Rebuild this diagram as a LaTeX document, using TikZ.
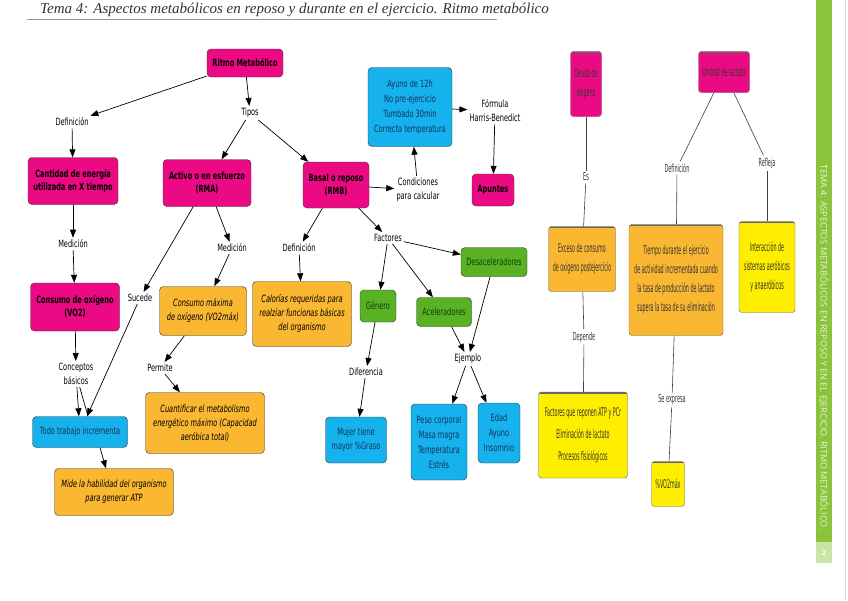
\documentclass[tikz,border=0pt]{standalone}
\usepackage{fontspec}
\setmainfont[FakeStretch=0.66]{DejaVu Sans}
\newfontfamily\estrecha[FakeStretch=0.4]{DejaVu Sans}
\newfontfamily\etiqfont[FakeStretch=0.45]{DejaVu Sans}
\newfontfamily\mano{Liberation Serif}
\newfontfamily\lateral{Open Sans}
\usetikzlibrary{arrows.meta}
\definecolor{rosado}{RGB}{236,10,132}
\definecolor{celeste}{RGB}{22,178,238}
\definecolor{naranjo}{RGB}{250,183,50}
\definecolor{verdecaja}{RGB}{88,178,36}
\definecolor{amarillo}{RGB}{255,238,0}
\definecolor{barra}{RGB}{138,196,60}
\definecolor{azuloscuro}{RGB}{20,50,90}
\definecolor{verdeoscuro}{RGB}{20,60,10}
\tikzset{
  caja/.style={draw=black!80,rounded corners=4pt,align=center,inner sep=2pt,
    font=\fontsize{10}{14}\selectfont},
  rosa/.style={caja,fill=rosado,font=\bfseries\fontsize{10}{13}\selectfont},
  azul/.style={caja,fill=celeste,text=azuloscuro},
  naranja/.style={caja,fill=naranjo,font=\itshape\fontsize{10}{14}\selectfont},
  verde/.style={caja,fill=verdecaja,text=verdeoscuro},
  etiqueta/.style={align=center,inner sep=2pt,font=\fontsize{10}{14}\selectfont},
  derecha/.style={draw=black!60,rounded corners=3pt,align=center,inner sep=2pt,
    text=black!80,font=\estrecha\fontsize{12}{19}\selectfont,
    path picture={\draw[line width=3pt] (path picture bounding box.north west)
      -- (path picture bounding box.north east);}},
  etiq2/.style={inner sep=2pt,text=black!80,font=\etiqfont\fontsize{11}{12}\selectfont},
  flecha/.style={-{Triangle[length=8pt,width=6pt]},line width=0.7pt},
  linea/.style={black!75,line width=0.6pt}
}
\begin{document}
\begin{tikzpicture}[x=1pt,y=-1pt]
\useasboundingbox (0,0) rectangle (848,600);
\fill[white] (0,0) rectangle (848,600);
% encabezado
\node[anchor=base west,inner sep=0pt,text=black!80,font=\mano\itshape\fontsize{15}{15}\selectfont] (titulo) at (40,13)
  {Tema 4: Aspectos metabólicos en reposo y durante en el ejercicio. Ritmo metabólico};
\draw[black!40] (27,19) -- (497,19);
% barra lateral
\fill[barra] (816,0) rectangle (832,542);
\fill[barra!45] (816,542) rectangle (832,563);
\node[rotate=-90,text=white!80!barra,font=\lateral\fontsize{9}{9}\selectfont] (tema) at (824,347)
  {TEMA 4: ASPECTOS METABÓLICOS EN REPOSO Y EN EL EJERCICIO. RITMO METABÓLICO.};
\node[text=white,font=\lateral\bfseries\fontsize{7}{8}\selectfont] (pagina) at (824,553) {2};
\draw[black!15] (845,0) -- (845,600);
% cajas rosadas
\node[rosa,minimum width=76pt,minimum height=28pt] (ritmo) at (245,63) {Ritmo Metabólico};
\node[rosa,minimum width=90pt,minimum height=47pt] (cantidad) at (73,181) {Cantidad de energía\\utilizada en X tiempo};
\node[rosa,minimum width=88pt,minimum height=47pt] (activo) at (207,183) {Activo o en esfuerzo\\(RMA)};
\node[rosa,minimum width=66pt,minimum height=46pt] (basal) at (336,185) {Basal o reposo\\(RMB)};
\node[rosa,minimum width=89pt,minimum height=48pt] (vo2) at (75,307) {Consumo de oxígeno\\(VO2)};
\node[rosa,minimum width=42pt,minimum height=32pt] (apuntes) at (493,190) {Apuntes};
% cajas azules
\node[azul,minimum width=84pt,minimum height=79pt,font=\fontsize{10}{15}\selectfont] (ayuno) at (410,107)
  {Ayuno de 12h\\No pre-ejercicio\\Tumbado 30min\\Correcta temperatura};
\node[azul,minimum width=95pt,minimum height=31pt] (todo) at (80,432) {Todo trabajo incrementa};
\node[azul,minimum width=61pt,minimum height=46pt] (mujer) at (356,440) {Mujer tiene\\mayor \%Graso};
\node[azul,minimum width=56pt,minimum height=76pt,font=\fontsize{10}{15}\selectfont] (peso) at (439,442)
  {Peso corporal\\Masa magra\\Temperatura\\Estrés};
\node[azul,minimum width=42pt,minimum height=60pt,font=\fontsize{10}{15}\selectfont] (edad) at (499,433)
  {Edad\\Ayuno\\Insomnio};
% cajas naranjas
\node[naranja,minimum width=87pt,minimum height=49pt] (vo2max) at (203,311) {Consumo máxima\\de oxígeno (VO2máx)};
\node[naranja,minimum width=99pt,minimum height=65pt] (calorias) at (302,314)
  {Calorías requeridas para\\realziar funcionas básicas\\del organismo};
\node[naranja,minimum width=119pt,minimum height=61pt] (cuantificar) at (205,423)
  {Cuantificar el metabolismo\\energético máximo (Capacidad\\aeróbica total)};
\node[naranja,minimum width=119pt,minimum height=47pt] (mide) at (114,492)
  {Mide la habilidad del organismo\\para generar ATP};
% cajas verdes
\node[verde,minimum width=66pt,minimum height=29pt] (desac) at (494,262) {Desaceleradores};
\node[verde,minimum width=36pt,minimum height=32pt] (genero) at (378,306) {Género};
\node[verde,minimum width=55pt,minimum height=29pt] (acel) at (444,312) {Aceleradores};
% enlaces
\node[etiqueta] (def1) at (72,122) {Definición};
\node[etiqueta] (tipos) at (250,113) {Tipos};
\node[etiqueta] (med1) at (73,244) {Medición};
\node[etiqueta] (med2) at (232,248) {Medición};
\node[etiqueta] (def2) at (299,248) {Definición};
\node[etiqueta] (sucede) at (140,298) {Sucede};
\node[etiqueta] (conceptos) at (76,374) {Conceptos\\básicos};
\node[etiqueta] (permite) at (160,368) {Permite};
\node[etiqueta] (condiciones) at (418,190) {Condiciones\\para calcular};
\node[etiqueta] (formula) at (495,111) {Fórmula\\Harris-Benedict};
\node[etiqueta] (factores) at (388,238) {Factores};
\node[etiqueta] (diferencia) at (366,372) {Diferencia};
\node[etiqueta] (ejemplo) at (468,359) {Ejemplo};
% flechas
\draw[flecha] (ritmo) -- (def1);
\draw[flecha] (ritmo) -- (tipos);
\draw[flecha] (def1) -- (cantidad);
\draw[flecha] (tipos) -- (activo);
\draw[flecha] (tipos) -- (basal);
\draw[flecha] (cantidad) -- (med1);
\draw[flecha] (med1) -- (vo2);
\draw[flecha] (vo2) -- (conceptos);
\draw[flecha] (conceptos) -- (todo);
\draw[line width=0.7pt] (conceptos) -- ([xshift=8pt]todo.north);
\draw[flecha] (activo) -- (sucede);
\draw[flecha] (sucede) -- (todo);
\draw[flecha] (activo) -- (med2);
\draw[flecha] (med2) -- (vo2max);
\draw[flecha] (vo2max) -- (permite);
\draw[flecha] (permite) -- (cuantificar);
\draw[flecha] ([xshift=20pt]todo.south) -- ([xshift=-8pt]mide.north);
\draw[flecha] (basal) -- (def2);
\draw[flecha] (def2) -- (calorias);
\draw[flecha] (basal) -- (condiciones);
\draw[flecha] (condiciones) -- (ayuno);
\draw[flecha] (ayuno) -- (formula);
\draw[flecha] (formula) -- (apuntes);
\draw[flecha] (basal) -- (factores);
\draw[flecha] (factores) -- (desac);
\draw[flecha] (factores) -- (genero);
\draw[flecha] (factores) -- (acel);
\draw[flecha] (genero) -- (diferencia);
\draw[flecha] (diferencia) -- (mujer);
\draw[flecha] (acel) -- (ejemplo);
\draw[flecha] (desac) -- (ejemplo);
\draw[flecha] (ejemplo) -- (peso);
\draw[flecha] (ejemplo) -- (edad);
% parte derecha
\node[derecha,fill=rosado,minimum width=31pt,minimum height=65pt] (deuda) at (586,84) {Deuda de\\oxígeno};
\node[derecha,fill=rosado,minimum width=51pt,minimum height=41pt] (umbral) at (724,72) {Umbral de lactato};
\node[derecha,fill=naranjo,minimum width=67pt,minimum height=65pt] (exceso) at (582,259)
  {Exceso de consumo\\de oxígeno postejercicio};
\node[derecha,fill=naranjo,minimum width=94pt,minimum height=111pt] (tiempo) at (676,280)
  {Tiempo durante el ejercicio\\de actividad incrementada cuando\\la tasa de producción de lactato\\supera la tasa de su eliminación};
\node[derecha,fill=amarillo,minimum width=56pt,minimum height=91pt] (interaccion) at (767,267)
  {Interacción de\\sistemas aeróbicos\\y anaeróbicos};
\node[derecha,fill=amarillo,minimum width=89pt,minimum height=86pt,font=\estrecha\fontsize{12}{22}\selectfont] (reponen) at (583,435)
  {Factores que reponen ATP y PCr\\Eliminación de lactato\\Procesos fisiológicos};
\node[derecha,fill=amarillo,minimum width=33pt,minimum height=45pt] (pvo2) at (668,484) {\%VO2máx};
\node[etiq2] (es) at (586,177) {Es};
\node[etiq2] (def3) at (677,168) {Definición};
\node[etiq2] (refleja) at (767,163) {Refleja};
\node[etiq2] (depende) at (584,337) {Depende};
\node[etiq2] (expresa) at (672,400) {Se expresa};
\draw[linea] (deuda) -- (es);
\draw[linea] (es) -- (exceso);
\draw[linea] (exceso) -- (depende);
\draw[linea] (depende) -- (reponen);
\draw[linea] (umbral) -- (def3);
\draw[linea] (def3) -- (tiempo);
\draw[linea] (umbral) -- (refleja);
\draw[linea] (refleja) -- (interaccion);
\draw[linea] (tiempo) -- (expresa);
\draw[linea] (expresa) -- (pvo2);
\end{tikzpicture}
\end{document}
